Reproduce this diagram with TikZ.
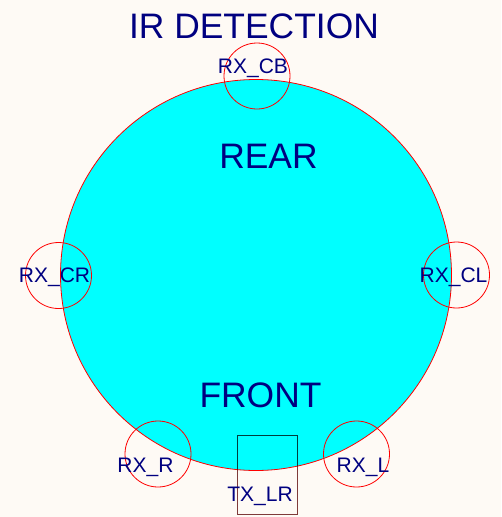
\documentclass[tikz,border=0pt]{standalone}
\usepackage{fontspec}
\setmainfont{Liberation Sans}
\usetikzlibrary{positioning}
\definecolor{paper}{RGB}{254,250,245}
\definecolor{ink}{RGB}{0,0,128}
\definecolor{rim}{RGB}{255,0,0}
\definecolor{shell}{RGB}{0,255,255}
\definecolor{txline}{RGB}{128,60,60}

\begin{document}
\begin{tikzpicture}[x=1pt, y=-1pt,
    sensor/.style={circle, draw=rim, minimum size=66pt, inner sep=0pt, line width=0.8pt},
    tag/.style={text=ink, font=\fontsize{21}{21}\selectfont, anchor=base, inner sep=0pt},
    bigtag/.style={text=ink, font=\fontsize{35.4}{35.4}\selectfont, anchor=base, inner sep=0pt}]
        \fill[paper] (0,0) rectangle (501,517);
        \useasboundingbox (0,0) rectangle (501,517);

        % robot body
        \node[circle, draw=rim, fill=shell, minimum size=391pt, inner sep=0pt, line width=0.8pt] (body) at (256,275) {};
        \node[bigtag] (title) at (254,38) {IR DETECTION};
        \node[bigtag] (rear) at (268.5,168) {REAR};
        \node[bigtag] (front) at (260.5,407) {FRONT};

        % receivers
        \node[sensor] (rxcb) at (257,76) {};
        \node[sensor] (rxcr) at (58.5,275.5) {};
        \node[sensor] (rxcl) at (456.5,275) {};
        \node[sensor] (rxr) at (158,454) {};
        \node[sensor] (rxl) at (356.5,454) {};
        \node[tag] (rxcb label) at (253,73) {RX\_CB};
        \node[tag] (rxcr label) at (54.5,282) {RX\_CR};
        \node[tag] (rxcl label) at (453.5,282) {RX\_CL};
        \node[tag] (rxr label) at (145.5,472) {RX\_R};
        \node[tag] (rxl label) at (363,472) {RX\_L};

        % transmitter
        \begin{scope}[blend mode=multiply]
        \node[rectangle, draw=txline, minimum width=60pt, minimum height=79pt, inner sep=0pt, line width=0.8pt] (tx) at (267,474.5) {};
        \end{scope}
        \node[tag] (tx label) at (260,501) {TX\_LR};
    \end{tikzpicture}
\end{document}
